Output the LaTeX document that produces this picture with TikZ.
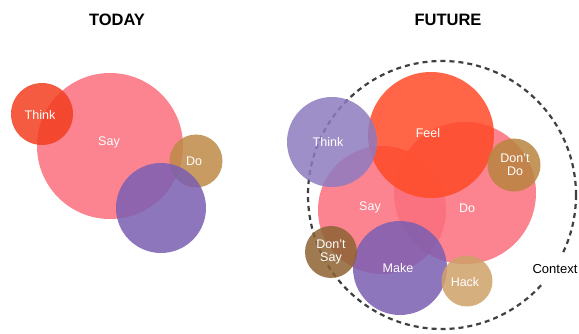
\documentclass[tikz,border=0pt]{standalone}
\usepackage{fontspec}
\setmainfont{Liberation Sans}
\begin{document}
\begin{tikzpicture}[x=1pt,y=-1pt,
  blob/.style={circle, draw=none, fill opacity=0.85, text opacity=1, text=white, inner sep=0pt, align=center},
  lbl/.style={text=white, font=\fontsize{12.5}{13.5}\selectfont, align=center},
  title/.style={font=\bfseries\fontsize{16.5}{18}\selectfont, text=black},
  ctx/.style={draw=black!75, line width=2.2pt, dash pattern=on 5pt off 4pt}]
\useasboundingbox (0,0) rectangle (579,334);
% colours
\definecolor{sayc}{HTML}{FA6E7C}
\definecolor{thinkl}{HTML}{F23E1E}
\definecolor{dol}{HTML}{BE8A48}
\definecolor{purp}{HTML}{7A5EB2}
\definecolor{feelc}{HTML}{FF4A26}
\definecolor{thinkr}{HTML}{8E7BC0}
\definecolor{dontdo}{HTML}{B9843F}
\definecolor{dontsay}{HTML}{8E6333}
\definecolor{hack}{HTML}{CFA168}
% titles
\node[title] (today) at (117,20) {TODAY};
\node[title] (future) at (448,20) {FUTURE};
% left panel
\node[blob, fill=sayc, minimum size=146pt] (lsay) at (110,146) {};
\node[blob, fill=thinkl, minimum size=62pt] (lthink) at (42,114) {};
\node[blob, fill=dol, minimum size=53pt] (ldo) at (196,161) {};
\node[blob, fill=purp, minimum size=90pt] (lpurp) at (161,208) {};
\node[lbl] (lsayt) at (109,142) {Say};
\node[lbl] (lthinkt) at (40,115) {Think};
\node[lbl] (ldot) at (194,161) {Do};
% right panel
\draw[ctx] (442,195) circle (134);
\node[blob, fill=sayc, minimum size=128pt] (rsay) at (382,210) {};
\node[blob, fill=sayc, minimum size=142pt] (rdo) at (465,193) {};
\node[blob, fill=feelc, minimum size=126pt] (rfeel) at (431,135) {};
\node[blob, fill=thinkr, minimum size=90pt] (rthink) at (332,142) {};
\node[blob, fill=dontdo, minimum size=53pt] (rdontdo) at (514,165) {};
\node[blob, fill=purp, minimum size=94pt] (rmake) at (400,268) {};
\node[blob, fill=dontsay, minimum size=52pt] (rdontsay) at (331,252) {};
\node[blob, fill=hack, minimum size=51pt] (rhack) at (467,281) {};
\node[lbl] (rsayt) at (370,207) {Say};
\node[lbl] (rdot) at (467,208) {Do};
\node[lbl] (rfeelt) at (428,133) {Feel};
\node[lbl] (rthinkt) at (328,142) {Think};
\node[lbl] (rdontdot) at (515,165) {Don't\\Do};
\node[lbl] (rmaket) at (398,268) {Make};
\node[lbl] (rdontsayt) at (331,252) {Don't\\Say};
\node[lbl] (rhackt) at (465,282) {Hack};
\node[fill=white, inner xsep=1pt, inner ysep=10pt, font=\fontsize{13}{14}\selectfont] (context) at (555,269) {Context};
\end{tikzpicture}
\end{document}
